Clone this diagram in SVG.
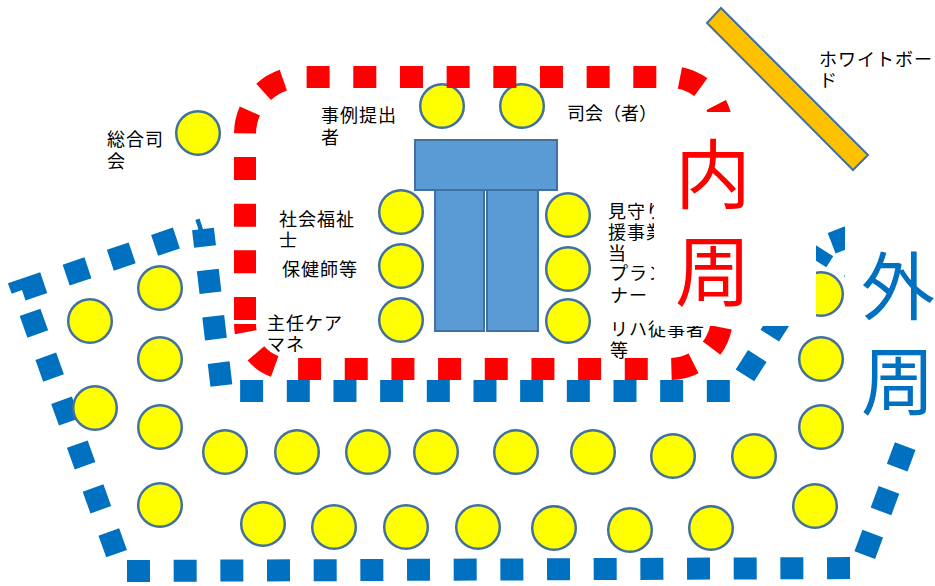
<svg xmlns="http://www.w3.org/2000/svg" width="935" height="586" viewBox="0 0 935 586">
<style>
.seat{fill:#FFFF00;stroke:#41719C;stroke-width:2.5}
.tbl{fill:#5B9BD5;stroke:#41719C;stroke-width:2}
.lbl{font-family:'Liberation Sans','Noto Sans CJK JP',sans-serif;font-size:18px;fill:#000;letter-spacing:1px}
.big{font-family:'Liberation Sans','Noto Sans CJK JP',sans-serif;font-size:76px;text-anchor:middle}
.loop{fill:none;stroke-width:22;stroke-dasharray:23 23.67;stroke-linejoin:miter;stroke-miterlimit:10}
.mask{fill:#FFFFFF}
</style>
<defs>
<clipPath id="rightcut"><rect x="0" y="0" width="654" height="586"/></clipPath>
</defs>
<rect width="935" height="586" fill="#FFFFFF"/>
<g id="outer-loop">
<path class="loop" stroke="#0070C0" d="M127 571 L860 568 L913 425 L838 229 M824 250.4 L817 261.4 M782.2 316.3 L769.8 335.7 M757.3 356 L735 391 L222 391 L203 229 M116.57 553.66 L22 290 L203 229"/>
</g>
<g id="table">
<rect class="tbl" x="435" y="190" width="49" height="141"/>
<rect class="tbl" x="487" y="190" width="51" height="141"/>
<rect class="tbl" x="415" y="140" width="142" height="50"/>
</g>
<g id="seats">
<g id="seat-general-chair"><circle class="seat" cx="198" cy="133" r="21.8"/></g>
<g id="seat-case-presenter"><circle class="seat" cx="442" cy="106" r="21.8"/></g>
<g id="seat-chair"><circle class="seat" cx="522" cy="106" r="21.8"/></g>
<g id="seat-social-worker"><circle class="seat" cx="401" cy="212" r="21.8"/></g>
<g id="seat-nurse"><circle class="seat" cx="401" cy="266" r="21.8"/></g>
<g id="seat-care-manager"><circle class="seat" cx="401" cy="320" r="21.8"/></g>
<g id="seat-watch-support"><circle class="seat" cx="568" cy="215" r="21.8"/></g>
<g id="seat-planner"><circle class="seat" cx="568" cy="269" r="21.8"/></g>
<g id="seat-rehab"><circle class="seat" cx="568" cy="321" r="21.8"/></g>
<g id="seat-o1"><circle class="seat" cx="90" cy="321" r="21.8"/></g>
<g id="seat-o2"><circle class="seat" cx="160" cy="288" r="21.8"/></g>
<g id="seat-o3"><circle class="seat" cx="160" cy="359" r="21.8"/></g>
<g id="seat-o4"><circle class="seat" cx="95" cy="408" r="21.8"/></g>
<g id="seat-o5"><circle class="seat" cx="160" cy="427" r="21.8"/></g>
<g id="seat-o6"><circle class="seat" cx="160" cy="505" r="21.8"/></g>
<g id="seat-o7"><circle class="seat" cx="225" cy="452" r="21.8"/></g>
<g id="seat-o8"><circle class="seat" cx="297" cy="452" r="21.8"/></g>
<g id="seat-o9"><circle class="seat" cx="368" cy="452" r="21.8"/></g>
<g id="seat-o10"><circle class="seat" cx="436" cy="452" r="21.8"/></g>
<g id="seat-o11"><circle class="seat" cx="516" cy="452" r="21.8"/></g>
<g id="seat-o12"><circle class="seat" cx="593" cy="452" r="21.8"/></g>
<g id="seat-o13"><circle class="seat" cx="673" cy="456" r="21.8"/></g>
<g id="seat-o14"><circle class="seat" cx="754" cy="456" r="21.8"/></g>
<g id="seat-o15"><circle class="seat" cx="263" cy="524" r="21.8"/></g>
<g id="seat-o16"><circle class="seat" cx="334" cy="527" r="21.8"/></g>
<g id="seat-o17"><circle class="seat" cx="406" cy="527" r="21.8"/></g>
<g id="seat-o18"><circle class="seat" cx="478" cy="527" r="21.8"/></g>
<g id="seat-o19"><circle class="seat" cx="554" cy="528" r="21.8"/></g>
<g id="seat-o20"><circle class="seat" cx="630" cy="530" r="21.8"/></g>
<g id="seat-o21"><circle class="seat" cx="711" cy="528" r="21.8"/></g>
<g id="seat-o22"><circle class="seat" cx="821" cy="294" r="21.8"/></g>
<g id="seat-o23"><circle class="seat" cx="821" cy="359" r="21.8"/></g>
<g id="seat-o24"><circle class="seat" cx="821" cy="427" r="21.8"/></g>
<g id="seat-o25"><circle class="seat" cx="815" cy="506" r="21.8"/></g>
</g>
<g id="inner-loop">
<path class="loop" stroke="#FF0000" d="M245 320 V134 A57 57 0 0 1 302 77 H670 A52 52 0 0 1 722 129 V234 M722 234.1 V317 A52 52 0 0 1 670 369 H290 A45 45 0 0 1 245 324"/>
</g>
<g id="labels">
<text class="lbl" x="107" y="146">総合司</text>
<text class="lbl" x="107" y="168">会</text>
<text class="lbl" x="321" y="122">事例提出</text>
<text class="lbl" x="321" y="144">者</text>
<text class="lbl" x="567" y="120" style="letter-spacing:0">司会（者）</text>
<text class="lbl" x="279" y="226">社会福祉</text>
<text class="lbl" x="279" y="247">士</text>
<text class="lbl" x="282" y="276">保健師等</text>
<text class="lbl" x="267" y="330">主任ケア</text>
<text class="lbl" x="267" y="351">マネ</text>
<g clip-path="url(#rightcut)">
<text class="lbl" x="608" y="218">見守り</text>
<text class="lbl" x="608" y="239">援事業</text>
<text class="lbl" x="608" y="260">当</text>
<text class="lbl" x="610" y="280">プラン</text>
</g>
<text class="lbl" x="610" y="302">ナー</text>
<text class="lbl" x="610" y="336">リハ従事者</text>
<text class="lbl" x="610" y="357">等</text>
</g>
<g id="inner-title">
<rect class="mask" x="654" y="112" width="162" height="214"/>
<text class="big" x="713" y="203" fill="#FF0000">内</text>
<text class="big" x="713" y="300" fill="#FF0000">周</text>
</g>
<g id="outer-title">
<rect class="mask" x="845" y="222" width="90" height="208"/>
<text class="big" x="898" y="314" fill="#0070C0" style="font-size:74px">外</text>
<text class="big" x="898" y="409" fill="#0070C0" style="font-size:74px">周</text>
</g>
<g id="whiteboard">
<polygon points="707,23 721,8 868,155 853,170" fill="#FFC000" stroke="#41719C" stroke-width="2"/>
<text class="lbl" x="819" y="66">ホワイトボー</text>
<text class="lbl" x="819" y="87">ド</text>
</g>
</svg>
